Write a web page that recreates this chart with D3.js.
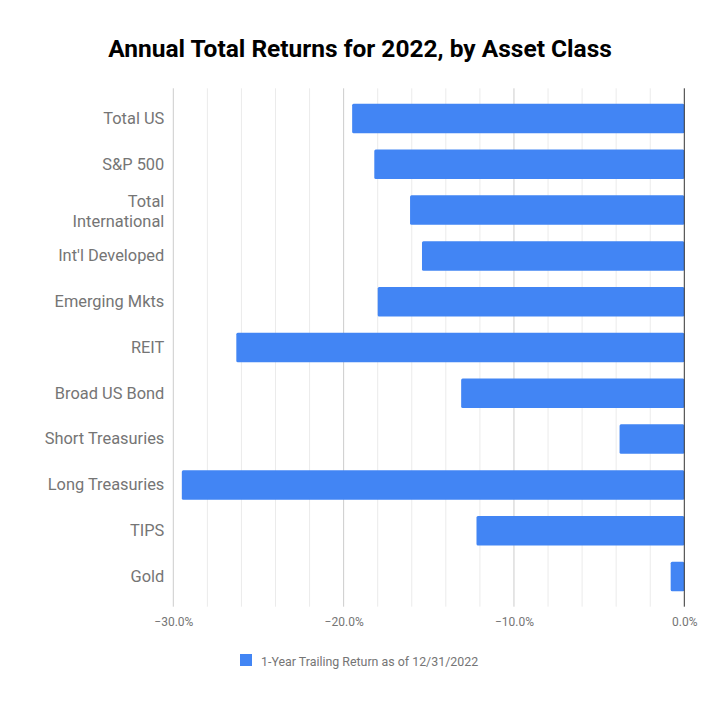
<!DOCTYPE html>
<html><head><meta charset="utf-8">
<script src="https://cdn.jsdelivr.net/npm/d3@7"></script>
<style>body{margin:0;background:#fff;}svg{display:block;font-family:Roboto,sans-serif;}</style>
</head><body>
<svg id="chart" width="720" height="703"></svg>
<script>
const categories = ["Total US","S&P 500","Total International","Int'l Developed","Emerging Mkts","REIT","Broad US Bond","Short Treasuries","Long Treasuries","TIPS","Gold"];
const values = [-19.5,-18.2,-16.1,-15.4,-18.0,-26.3,-13.1,-3.8,-29.5,-12.2,-0.8];
const majorTicks = [-30,-20,-10,0];
const minorTicks = d3.range(-30, 0.1, 2);
const seriesName = "1-Year Trailing Return as of 12/31/2022";
const title = "Annual Total Returns for 2022, by Asset Class";
const wrapped = {"Total International":["Total","International"]};

const svg = d3.select("#chart");
const m = {left:173.3, right:684.3, top:88.3, bottom:606.7};
const x = d3.scaleLinear().domain([-30,0]).range([m.left,m.right]);
const y = d3.scaleBand().domain(categories).range([m.top,m.bottom]).paddingInner(0.356).paddingOuter(0.338);

svg.append("text").attr("x",360).attr("y",57).attr("text-anchor","middle")
  .attr("font-size",24.5).attr("font-weight","bold").attr("fill","#000").text(title);

// gridlines
svg.append("g").selectAll("line").data(minorTicks.filter(t=>t%10!==0)).join("line")
  .attr("x1",d=>x(d)).attr("x2",d=>x(d)).attr("y1",m.top).attr("y2",m.bottom)
  .attr("stroke","#ebebeb").attr("stroke-width",1);
svg.append("g").selectAll("line").data(majorTicks.filter(t=>t!==0)).join("line")
  .attr("x1",d=>x(d)).attr("x2",d=>x(d)).attr("y1",m.top).attr("y2",m.bottom)
  .attr("stroke","#cccccc").attr("stroke-width",1);

// bars
svg.append("g").selectAll("rect").data(categories).join("rect")
  .attr("x",(d,i)=>x(values[i])).attr("width",(d,i)=>x(0)-x(values[i]))
  .attr("y",d=>y(d)).attr("height",y.bandwidth())
  .attr("rx",1.5).attr("fill","#4285f4");

// zero line
svg.append("line").attr("x1",x(0)).attr("x2",x(0)).attr("y1",m.top).attr("y2",m.bottom)
  .attr("stroke","#333").attr("stroke-width",1);

// x axis labels
const xAxis = d3.axisBottom(x).tickValues(majorTicks).tickSize(0).tickFormat(d=>d3.format(".1f")(d)+"%");
const gx = svg.append("g").attr("transform",`translate(0,${m.bottom})`).call(xAxis);
gx.select(".domain").remove();
gx.selectAll("text").attr("font-size",12).attr("font-family","Roboto,sans-serif").attr("fill","#757575").attr("dy",0).attr("y",19.5);

// y axis labels
const yAxis = d3.axisLeft(y).tickSize(0).tickPadding(9);
const gy = svg.append("g").attr("transform",`translate(${m.left},0)`).call(yAxis);
gy.select(".domain").remove();
gy.selectAll("text").attr("font-size",16.4).attr("font-family","Roboto,sans-serif").attr("fill","#757575")
  .each(function(d){
    const lines = wrapped[d];
    if(lines){
      const t = d3.select(this).text(null).attr("dy",null);
      lines.forEach((l,i)=>t.append("tspan").attr("x",-9).attr("dy",i===0?"-0.17em":"1.22em").text(l));
    }
  });

// legend
const lg = svg.append("g");
lg.append("rect").attr("x",240).attr("y",654).attr("width",12).attr("height",12).attr("fill","#4285f4");
lg.append("text").attr("x",261).attr("y",665.5).attr("font-size",12.4).attr("fill","#757575").text(seriesName);
</script>
</body></html>
